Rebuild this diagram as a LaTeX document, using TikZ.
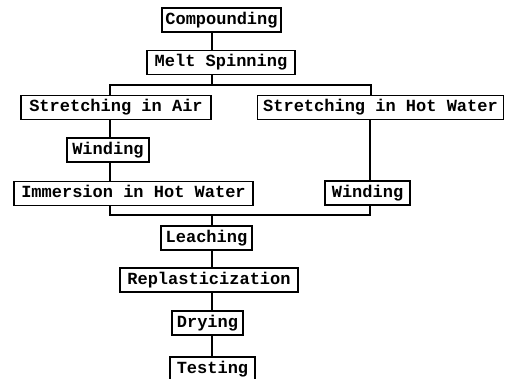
\documentclass[tikz,border=0pt]{standalone}
\usepackage{fontspec}
\setmonofont{Liberation Mono}
\begin{document}
\begin{tikzpicture}[x=1pt,y=-1pt,
  stepbox/.style={draw=black, line width=1.3pt, rectangle, inner sep=0pt,
    minimum height=24pt, text height=11pt, text depth=2.5pt,
    font=\fontsize{17}{17}\selectfont\ttfamily\bfseries},
  link/.style={draw=black, line width=1.3pt}]
\useasboundingbox (0,0) rectangle (508,379);
\node[stepbox, minimum width=119pt] (comp)  at (221.5,20)   {Compounding};
\node[stepbox, minimum width=148pt] (melt)  at (221,62.5)   {Melt Spinning};
\node[stepbox, minimum width=190pt] (air)   at (116,107.5)  {Stretching in Air};
\node[stepbox, minimum width=246pt] (hot)   at (380.5,107.5){Stretching in Hot Water};
\node[stepbox, minimum width=82pt]  (wind1) at (108,150)    {Winding};
\node[stepbox, minimum width=239pt] (imm)   at (133.5,193.5){Immersion in Hot Water};
\node[stepbox, minimum width=85pt]  (wind2) at (367.5,193)  {Winding};
\node[stepbox, minimum width=91pt]  (leach) at (206.5,238)  {Leaching};
\node[stepbox, minimum width=178pt] (repl)  at (209,280)    {Replasticization};
\node[stepbox, minimum width=71pt]  (dry)   at (207.5,323)  {Drying};
\node[stepbox, minimum width=85pt]  (test)  at (212.5,369)  {Testing};
\coordinate (split)  at (212,85);
\coordinate (splitL) at (110,85);
\coordinate (splitR) at (371,85);
\coordinate (join)   at (212,215);
\coordinate (joinL)  at (110,215);
\coordinate (joinR)  at (370,215);
\draw[link] (comp.south -| split) -- (melt.north -| split);
\draw[link] (melt.south -| split) -- (split);
\draw[link] (splitL |- air.north) -- (splitL) -- (splitR) -- (splitR |- hot.north);
\draw[link] (air.south -| splitL) -- (wind1.north -| splitL);
\draw[link] (wind1.south -| splitL) -- (imm.north -| splitL);
\draw[link] (hot.south -| joinR) -- (wind2.north -| joinR);
\draw[link] (imm.south -| joinL) -- (joinL) -- (joinR) -- (wind2.south -| joinR);
\draw[link] (join) -- (leach.north -| join);
\draw[link] (leach.south -| join) -- (repl.north -| join);
\draw[link] (repl.south -| join) -- (dry.north -| join);
\draw[link] (dry.south -| join) -- (test.north -| join);
\end{tikzpicture}
\end{document}
